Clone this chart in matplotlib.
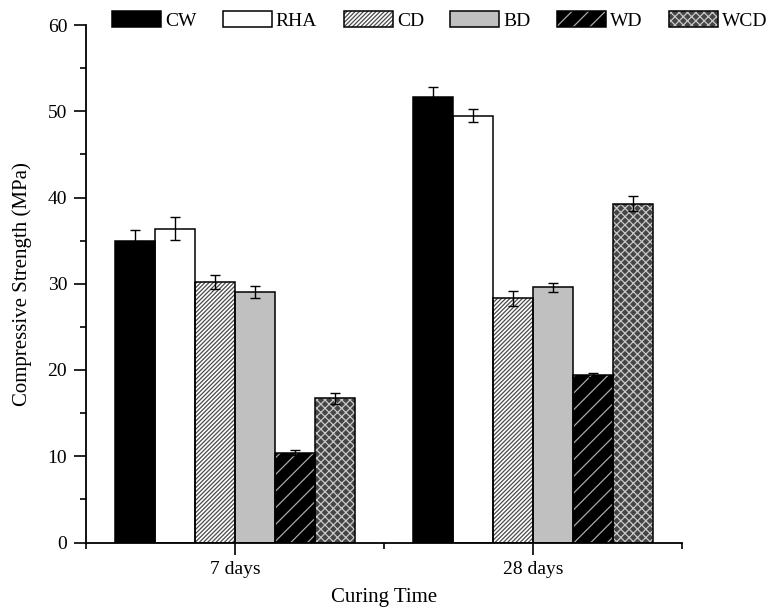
import numpy as np
import matplotlib
matplotlib.use("Agg")
import matplotlib.pyplot as plt
from matplotlib.patches import Patch
from matplotlib.ticker import MultipleLocator, FixedLocator

plt.rcParams['font.family'] = ['Liberation Serif', 'DejaVu Serif']
plt.rcParams['hatch.linewidth'] = 0.9

# data
categories = ['7 days', '28 days']
series = ['CW', 'RHA', 'CD', 'BD', 'WD', 'WCD']
cw = [35.0, 51.7]
rha = [36.4, 49.5]
cd = [30.2, 28.3]
bd = [29.0, 29.6]
wd = [10.4, 19.4]
wcd = [16.7, 39.3]
cw_err = [1.2, 1.1]
rha_err = [1.3, 0.8]
cd_err = [0.8, 0.9]
bd_err = [0.7, 0.5]
wd_err = [0.3, 0.25]
wcd_err = [0.6, 0.9]

values = [cw, rha, cd, bd, wd, wcd]
errors = [cw_err, rha_err, cd_err, bd_err, wd_err, wcd_err]

# face colour, hatch colour, hatch
styles = [
    ('black', 'black', ''),
    ('white', 'white', ''),
    ('white', '#4a4a4a', '////////'),
    ('#c0c0c0', '#c0c0c0', ''),
    ('black', '#a8a8a8', '//'),
    ('#454545', '#c8c8c8', 'xxxx'),
]

fig = plt.figure(figsize=(7.77, 6.12), dpi=100)
ax = fig.add_axes([86/777, 1 - 542.5/612, (682.5 - 86)/777, (542.5 - 25)/612])

x = np.arange(1, len(categories) + 1)
w = 0.134
handles = []
for i, (name, vals, errs) in enumerate(zip(series, values, errors)):
    fc, hc, hatch = styles[i]
    pos = x + (i - 2.5) * w
    ax.bar(pos, vals, w, color=fc, edgecolor=hc, hatch=hatch, linewidth=0, zorder=2)
    ax.bar(pos, vals, w, facecolor='none', edgecolor='black', linewidth=1.1, zorder=3)
    ax.errorbar(pos, vals, yerr=errs, fmt='none', ecolor='black', elinewidth=1.0,
                capsize=3.8, capthick=1.0, zorder=4)
    handles.append((Patch(facecolor=fc, edgecolor=hc, hatch=hatch, linewidth=0),
                    Patch(facecolor='none', edgecolor='black', linewidth=1.1)))

ax.set_xlim(0.5, 2.5)
ax.set_ylim(0, 60)
ax.set_xticks(x)
ax.set_xticklabels(categories)
ax.xaxis.set_minor_locator(FixedLocator([0.5, 1.5, 2.5]))
ax.yaxis.set_major_locator(MultipleLocator(10))
ax.yaxis.set_minor_locator(MultipleLocator(5))
ax.tick_params(which='major', direction='out', length=8.5, width=1.2, pad=5, labelsize=14)
ax.tick_params(which='minor', direction='out', length=4.5, width=1.2)
for s in ['top', 'right']:
    ax.spines[s].set_visible(False)
for s in ['left', 'bottom']:
    ax.spines[s].set_linewidth(1.3)

ax.set_xlabel('Curing Time', fontsize=15, labelpad=7)
ax.set_ylabel('Compressive Strength (MPa)', fontsize=15, labelpad=11)

fig.legend(handles, series, loc='center left', bbox_to_anchor=(111.7/777, 1 - 20.5/612),
           ncol=6, frameon=False, fontsize=14, handlelength=2.52, handleheight=0.9,
           handletextpad=0.22, columnspacing=1.35, borderpad=0, borderaxespad=0)

fig.savefig('out.png', dpi=100)
